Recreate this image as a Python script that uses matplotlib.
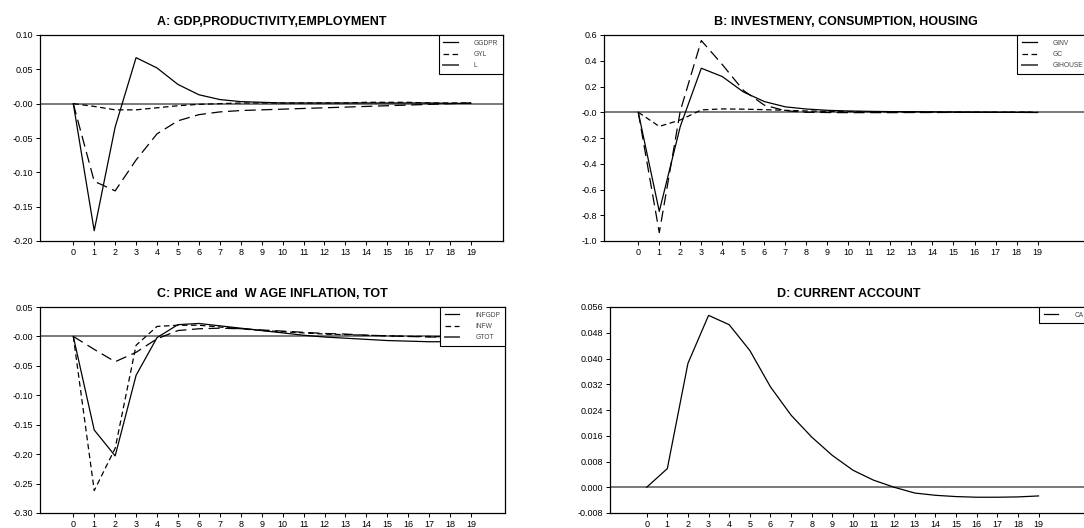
import matplotlib
matplotlib.use("Agg")
import matplotlib.pyplot as plt

plt.rcParams["font.family"] = ["Liberation Sans", "DejaVu Sans"]
plt.rcParams["lines.scale_dashes"] = False

periods = list(range(20))
xtick_labels = [str(p) for p in periods]

# A: GDP, productivity, employment
ggdpr = [0, -0.185, -0.034, 0.067, 0.052, 0.028, 0.013, 0.006, 0.003, 0.002,
         0.001, 0.001, 0.001, 0.001, 0.001, 0.001, 0.001, 0.001, 0.0005, 0.0005]
gyl = [0, -0.004, -0.009, -0.009, -0.006, -0.003, -0.001, 0.0, 0.001, 0.001,
       0.001, 0.001, 0.001, 0.001, 0.002, 0.002, 0.002, 0.001, 0.001, 0.001]
emp = [0, -0.113, -0.127, -0.082, -0.044, -0.025, -0.016, -0.012, -0.010, -0.009,
       -0.008, -0.007, -0.006, -0.005, -0.004, -0.003, -0.002, -0.001, 0.0, 0.001]
a_yticks = [0.10, 0.05, 0.0, -0.05, -0.10, -0.15, -0.20]
a_ylabels = ["0.10", "0.05", "-0.00", "-0.05", "-0.10", "-0.15", "-0.20"]

# B: investment, consumption, housing
ginv = [0, -0.77, -0.11, 0.342, 0.277, 0.158, 0.083, 0.042, 0.025, 0.015,
        0.010, 0.007, 0.005, 0.004, 0.003, 0.002, 0.001, 0.0, -0.001, -0.002]
gc = [0, -0.11, -0.06, 0.018, 0.026, 0.024, 0.020, 0.015, 0.010, 0.007,
      0.005, 0.004, 0.003, 0.002, 0.002, 0.001, 0.001, 0.0, 0.0, 0.0]
gihouse = [0, -0.935, 0.01, 0.557, 0.37, 0.17, 0.055, 0.012, 0.0, -0.002,
           -0.003, -0.003, -0.003, -0.002, -0.002, -0.001, -0.001, -0.001, 0.0, 0.0]
b_yticks = [0.6, 0.4, 0.2, 0.0, -0.2, -0.4, -0.6, -0.8, -1.0]
b_ylabels = ["0.6", "0.4", "0.2", "-0.0", "-0.2", "-0.4", "-0.6", "-0.8", "-1.0"]

# C: price and wage inflation, terms of trade
infgdp = [0, -0.159, -0.203, -0.066, -0.002, 0.020, 0.022, 0.018, 0.014, 0.010,
          0.006, 0.002, -0.001, -0.003, -0.005, -0.007, -0.008, -0.009, -0.009, -0.009]
infw = [0, -0.262, -0.19, -0.015, 0.017, 0.019, 0.019, 0.016, 0.013, 0.010,
        0.008, 0.006, 0.004, 0.003, 0.002, 0.001, 0.0, 0.0, -0.001, -0.001]
gtot = [0, -0.022, -0.043, -0.027, -0.004, 0.010, 0.013, 0.014, 0.013, 0.011,
        0.009, 0.007, 0.005, 0.004, 0.002, 0.001, 0.0, -0.001, -0.001, -0.001]
c_yticks = [0.05, 0.0, -0.05, -0.10, -0.15, -0.20, -0.25, -0.30]
c_ylabels = ["0.05", "-0.00", "-0.05", "-0.10", "-0.15", "-0.20", "-0.25", "-0.30"]

# D: current account
ca = [0, 0.0058, 0.0385, 0.0534, 0.0505, 0.0425, 0.0312, 0.0224, 0.0156, 0.0099,
      0.0053, 0.0022, 0.0, -0.0018, -0.0025, -0.0029, -0.0031, -0.0031, -0.0030, -0.0027]
d_yticks = [0.056, 0.048, 0.040, 0.032, 0.024, 0.016, 0.008, 0.0, -0.008]
d_ylabels = ["0.056", "0.048", "0.040", "0.032", "0.024", "0.016", "0.008", "0.000", "-0.008"]

W, H = 1084, 528
fig = plt.figure(figsize=(W / 100, H / 100), dpi=100)

SOLID = dict(color="black", lw=0.9, ls="-")
SHORT = dict(color="black", lw=0.9, ls=(0, (4, 2.5)))
LONG = dict(color="black", lw=0.9, ls=(0, (8, 4)))


def make_axes(left, right, top, bottom):
    return fig.add_axes([left / W, (H - bottom) / H, (right - left) / W, (bottom - top) / H])


def style(ax, title, xlim, ylim, yticks, ylabels):
    ax.set_xlim(*xlim)
    ax.set_ylim(*ylim)
    ax.set_xticks(periods)
    ax.set_xticklabels(xtick_labels)
    ax.set_yticks(yticks)
    ax.set_yticklabels(ylabels)
    ax.tick_params(labelsize=6.5, length=3, width=0.7, pad=2, direction="out")
    ax.axhline(0, color="#555555", lw=1.1, zorder=1)
    for s in ax.spines.values():
        s.set_linewidth(0.9)
    ax.set_title(title, fontsize=9, fontweight="bold", pad=7)


def legend(ax, handles, labels):
    leg = ax.legend(handles, labels, loc="upper right", fontsize=4.8,
                    frameon=True, fancybox=False, borderaxespad=0,
                    handlelength=2.2, handletextpad=2.4, borderpad=0.7,
                    labelspacing=0.65, framealpha=1)
    leg.get_frame().set_edgecolor("black")
    leg.get_frame().set_linewidth(0.8)
    for t in leg.get_texts():
        t.set_color("#444444")
    lines = leg.get_lines()
    # long-dash handle shows as one solid grey stroke in the original
    if len(lines) == 3:
        lines[2].set_linestyle("-")
        lines[2].set_color("#555555")
        lines[2].set_linewidth(1.4)
    return leg


# Panel A
axA = make_axes(40, 503, 35, 241)
hA1, = axA.plot(periods, ggdpr, **SOLID)
hA2, = axA.plot(periods, gyl, **SHORT)
hA3, = axA.plot(periods, emp, **LONG)
style(axA, "A: GDP,PRODUCTIVITY,EMPLOYMENT", (-1.59, 20.53), (-0.20, 0.10), a_yticks, a_ylabels)
legend(axA, [hA1, hA2, hA3], ["GGDPR", "GYL", "L"])

# Panel B
axB = make_axes(604, 1088, 35, 241)
hB1, = axB.plot(periods, ginv, **SOLID)
hB2, = axB.plot(periods, gc, **SHORT)
hB3, = axB.plot(periods, gihouse, **LONG)
style(axB, "B: INVESTMENY, CONSUMPTION, HOUSING", (-1.63, 21.4), (-1.0, 0.6), b_yticks, b_ylabels)
legend(axB, [hB1, hB2, hB3], ["GINV", "GC", "GIHOUSE"])

# Panel C
axC = make_axes(40, 505, 307, 513)
hC1, = axC.plot(periods, infgdp, **SOLID)
hC2, = axC.plot(periods, infw, **SHORT)
hC3, = axC.plot(periods, gtot, **LONG)
style(axC, "C: PRICE and  W AGE INFLATION, TOT", (-1.59, 20.62), (-0.30, 0.05), c_yticks, c_ylabels)
legend(axC, [hC1, hC2, hC3], ["INFGDP", "INFW", "GTOT"])

# Panel D
axD = make_axes(610, 1088, 307, 513)
hD1, = axD.plot(periods, ca, **SOLID)
style(axD, "D: CURRENT ACCOUNT", (-1.78, 21.4), (-0.008, 0.056), d_yticks, d_ylabels)
legend(axD, [hD1], ["CA"])

fig.savefig("out.png", dpi=100)
